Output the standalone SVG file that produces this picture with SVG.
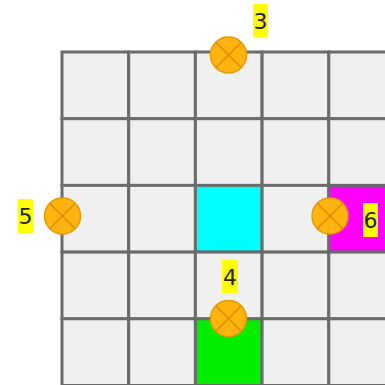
<svg xmlns="http://www.w3.org/2000/svg" width="385" height="385" viewBox="0 0 385 385">
<style>
.c{fill:#f0f0f0;stroke:#6b6b6b;stroke-width:3}
.cy{fill:#00ffff;stroke:#6b6b6b;stroke-width:3}
.mg{fill:#ff00ff;stroke:#6b6b6b;stroke-width:3}
.gr{fill:#00ee00;stroke:#6b6b6b;stroke-width:3}
.dot{fill:#ffb30f;stroke:#e39a00;stroke-width:1.5}
.x{stroke:#d98c00;stroke-width:1.5}
.hl{fill:#ffff00}
.t{font-family:"DejaVu Sans",sans-serif;font-size:22px;fill:#222;text-anchor:middle}
</style>
<rect width="385" height="385" fill="#ffffff"/>
<g id="grid">
<rect class="c" x="62" y="52" width="66.7" height="66.7"/>
<rect class="c" x="128.7" y="52" width="66.7" height="66.7"/>
<rect class="c" x="195.4" y="52" width="66.7" height="66.7"/>
<rect class="c" x="262.1" y="52" width="66.7" height="66.7"/>
<rect class="c" x="328.8" y="52" width="66.7" height="66.7"/>
<rect class="c" x="62" y="118.7" width="66.7" height="66.7"/>
<rect class="c" x="128.7" y="118.7" width="66.7" height="66.7"/>
<rect class="c" x="195.4" y="118.7" width="66.7" height="66.7"/>
<rect class="c" x="262.1" y="118.7" width="66.7" height="66.7"/>
<rect class="c" x="328.8" y="118.7" width="66.7" height="66.7"/>
<rect class="c" x="62" y="185.4" width="66.7" height="66.7"/>
<rect class="c" x="128.7" y="185.4" width="66.7" height="66.7"/>
<rect class="cy" x="195.4" y="185.4" width="66.7" height="66.7"/>
<rect class="c" x="262.1" y="185.4" width="66.7" height="66.7"/>
<rect class="mg" x="328.8" y="185.4" width="66.7" height="66.7"/>
<rect class="c" x="62" y="252.1" width="66.7" height="66.7"/>
<rect class="c" x="128.7" y="252.1" width="66.7" height="66.7"/>
<rect class="c" x="195.4" y="252.1" width="66.7" height="66.7"/>
<rect class="c" x="262.1" y="252.1" width="66.7" height="66.7"/>
<rect class="c" x="328.8" y="252.1" width="66.7" height="66.7"/>
<rect class="c" x="62" y="318.8" width="66.7" height="66.7"/>
<rect class="c" x="128.7" y="318.8" width="66.7" height="66.7"/>
<rect class="gr" x="195.4" y="318.8" width="66.7" height="66.7"/>
<rect class="c" x="262.1" y="318.8" width="66.7" height="66.7"/>
<rect class="c" x="328.8" y="318.8" width="66.7" height="66.7"/>
</g>
<g id="connectors"/>
<g id="n3">
<circle class="dot" cx="228.5" cy="55" r="18"/>
<path class="x" d="M215.8 42.3L241.2 67.7M241.2 42.3L215.8 67.7"/>
<rect class="hl" x="253" y="4" width="15" height="33"/>
<text class="t" x="260.5" y="29">3</text>
</g>
<g id="n5">
<circle class="dot" cx="62.5" cy="216" r="18"/>
<path class="x" d="M49.8 203.3L75.2 228.7M75.2 203.3L49.8 228.7"/>
<rect class="hl" x="18" y="199" width="15" height="34"/>
<text class="t" x="25.5" y="224">5</text>
</g>
<g id="n6">
<circle class="dot" cx="330" cy="216" r="18"/>
<path class="x" d="M317.3 203.3L342.7 228.7M342.7 203.3L317.3 228.7"/>
<rect class="hl" x="363" y="203" width="15" height="34"/>
<text class="t" x="370.5" y="228">6</text>
</g>
<g id="n4">
<circle class="dot" cx="228.5" cy="318.5" r="18"/>
<path class="x" d="M215.8 305.8L241.2 331.2M241.2 305.8L215.8 331.2"/>
<rect class="hl" x="222" y="260" width="16" height="33"/>
<text class="t" x="230" y="285">4</text>
</g>
</svg>
